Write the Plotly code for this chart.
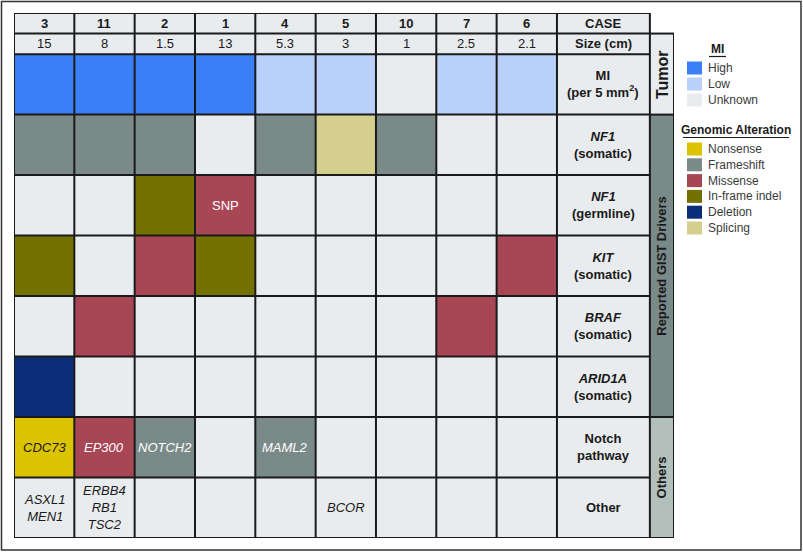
import plotly.graph_objects as go

# --- data -------------------------------------------------------------
cases = ["3", "11", "2", "1", "4", "5", "10", "7", "6"]
sizes = ["15", "8", "1.5", "13", "5.3", "3", "1", "2.5", "2.1"]
mi = ["High", "High", "High", "High", "Low", "Low", "Unknown", "Low", "Low"]
nf1_somatic = ["Frameshift", "Frameshift", "Frameshift", "", "Frameshift", "Splicing", "Frameshift", "", ""]
nf1_germline = ["", "", "In-frame indel", "Missense", "", "", "", "", ""]
kit = ["In-frame indel", "", "Missense", "In-frame indel", "", "", "", "", "Missense"]
braf = ["", "Missense", "", "", "", "", "", "Missense", ""]
arid1a = ["Deletion", "", "", "", "", "", "", "", ""]
notch = ["Nonsense", "Missense", "Frameshift", "", "Frameshift", "", "", "", ""]
other = ["", "", "", "", "", "", "", "", ""]

germline_note = ["", "", "", "SNP", "", "", "", "", ""]
notch_genes = ["CDC73", "EP300", "NOTCH2", "", "MAML2", "", "", "", ""]
other_genes = ["ASXL1<br>MEN1", "ERBB4<br>RB1<br>TSC2", "", "", "", "BCOR", "", "", ""]

row_labels = ["<b>CASE</b>", "<b>Size (cm)</b>", "<b>MI<br>(per 5 mm<sup>2</sup>)</b>",
              "<b><i>NF1</i><br>(somatic)</b>", "<b><i>NF1</i><br>(germline)</b>",
              "<b><i>KIT</i><br>(somatic)</b>", "<b><i>BRAF</i><br>(somatic)</b>",
              "<b><i>ARID1A</i><br>(somatic)</b>", "<b>Notch<br>pathway</b>", "<b>Other</b>"]
groups = ["Tumor", "Reported GIST Drivers", "Others"]
group_rows = [(1, 3), (3, 8), (8, 10)]

mi_legend = ["High", "Low", "Unknown"]
alt_legend = ["Nonsense", "Frameshift", "Missense", "In-frame indel", "Deletion", "Splicing"]

# --- styles -----------------------------------------------------------
blank = "#e9ecee"
colors = {"": blank, "Unknown": blank, "High": "#3a7ff6", "Low": "#b9d0fa",
          "Nonsense": "#dcc300", "Frameshift": "#7a8a88", "Missense": "#a84655",
          "In-frame indel": "#737200", "Deletion": "#0c2e7a", "Splicing": "#d5cf8e"}
group_colors = [blank, "#7a8a88", "#b3bfbb"]
cat_order = ["", "High", "Low", "Nonsense", "Frameshift", "Missense", "In-frame indel", "Deletion", "Splicing"]
code = {c: i for i, c in enumerate(cat_order)}
code["Unknown"] = 0

FONT = "Liberation Sans, Arial, sans-serif"
INK = "#1a1a1a"
W, H = 803, 552

ncol = len(cases)
label_w = 1.54
side_w = 0.40
row_h = [0.34, 0.34] + [1] * 8
row_edges = [0]
for h in row_h:
    row_edges.append(row_edges[-1] + h)
col_edges = list(range(ncol + 1)) + [ncol + label_w]
x_end = ncol + label_w + side_w
y_end = row_edges[-1]

data_rows = [mi, nf1_somatic, nf1_germline, kit, braf, arid1a, notch, other]
z = [[0] * (ncol + 1), [0] * (ncol + 1)]
for r in data_rows:
    z.append([code[v] for v in r] + [0])

n = len(cat_order)
cs = []
for i, c in enumerate(cat_order):
    cs += [[i / n, colors[c]], [(i + 1) / n, colors[c]]]

fig = go.Figure(go.Heatmap(
    z=z, x=col_edges, y=row_edges, colorscale=cs, zmin=-0.5, zmax=n - 0.5,
    showscale=False, hoverinfo="skip"))

shapes = []
ann = []

# side group bands
for g, (a, b), gc in zip(groups, group_rows, group_colors):
    shapes.append(dict(type="rect", xref="x", yref="y", x0=ncol + label_w, x1=x_end,
                       y0=row_edges[a], y1=row_edges[b], fillcolor=gc, line_width=0, layer="below"))
    big = g == "Tumor"
    ann.append(dict(x=ncol + label_w + side_w / 2, y=(row_edges[a] + row_edges[b]) / 2,
                    xref="x", yref="y", text="<b>%s</b>" % g, textangle=-90, showarrow=False,
                    font=dict(family=FONT, size=16 if big else 13, color=INK)))

# grid lines
lw = 2
for xe in col_edges:
    shapes.append(dict(type="line", xref="x", yref="y", x0=xe, x1=xe, y0=0, y1=y_end,
                       line=dict(color=INK, width=lw)))
shapes.append(dict(type="line", xref="x", yref="y", x0=x_end, x1=x_end, y0=row_edges[1], y1=y_end,
                   line=dict(color=INK, width=lw)))
for i, ye in enumerate(row_edges):
    shapes.append(dict(type="line", xref="x", yref="y", x0=0, x1=ncol + label_w, y0=ye, y1=ye,
                       line=dict(color=INK, width=lw)))
for ye in [row_edges[1]] + [row_edges[b] for a, b in group_rows]:
    shapes.append(dict(type="line", xref="x", yref="y", x0=ncol + label_w, x1=x_end, y0=ye, y1=ye,
                       line=dict(color=INK, width=lw)))

def mid(i):
    return (row_edges[i] + row_edges[i + 1]) / 2

# header rows
for j in range(ncol):
    ann.append(dict(x=j + 0.5, y=mid(0), text="<b>%s</b>" % cases[j]))
    ann.append(dict(x=j + 0.5, y=mid(1), text=sizes[j]))
for i, lab in enumerate(row_labels):
    ann.append(dict(x=ncol + label_w / 2, y=mid(i), text=lab))

# cell texts
dark_bg = ["Frameshift", "Missense", "In-frame indel", "Deletion", "High"]
for j in range(ncol):
    if germline_note[j]:
        ann.append(dict(x=j + 0.5, y=mid(4), text=germline_note[j],
                        font=dict(family=FONT, size=13, color="white")))
    if notch_genes[j]:
        col = "white" if notch[j] in dark_bg else INK
        ann.append(dict(x=j + 0.5, y=mid(8), text="<i>%s</i>" % notch_genes[j],
                        font=dict(family=FONT, size=13, color=col)))
    if other_genes[j]:
        ann.append(dict(x=j + 0.5, y=mid(9), text="<i>%s</i>" % other_genes[j],
                        font=dict(family=FONT, size=13, color=INK)))

for a in ann:
    a.setdefault("xref", "x")
    a.setdefault("yref", "y")
    a.setdefault("showarrow", False)
    a.setdefault("font", dict(family=FONT, size=13, color=INK))

# --- legend (paper coordinates, px -> fraction) -----------------------
def px(x):
    return x / W

def py(y):
    return 1 - y / H

leg_font = dict(family=FONT, size=12, color="#3a3a3a")

def legend_block(title, tx, ty, ux0, ux1, items, y0, step):
    ann.append(dict(x=px(tx), y=py(ty), xref="paper", yref="paper", showarrow=False,
                    xanchor="center", yanchor="middle",
                    text="<b>%s</b>" % title, font=dict(family=FONT, size=12, color=INK)))
    shapes.append(dict(type="line", xref="paper", yref="paper", x0=px(ux0), x1=px(ux1),
                       y0=py(ty + 7.5), y1=py(ty + 7.5), line=dict(color=INK, width=1.2)))
    for k, it in enumerate(items):
        yc = y0 + k * step
        shapes.append(dict(type="rect", xref="paper", yref="paper", x0=px(687), x1=px(702),
                           y0=py(yc - 6.5), y1=py(yc + 6.5), fillcolor=colors[it], line_width=0))
        ann.append(dict(x=px(706), y=py(yc), xref="paper", yref="paper", showarrow=False,
                        xanchor="left", yanchor="middle", text=it, font=leg_font))

legend_block("MI", 717, 49, 709, 726, mi_legend, 68, 16)
legend_block("Genomic Alteration", 736, 130, 683, 789, alt_legend, 149, 15.8)

# outer frame
shapes.append(dict(type="rect", xref="paper", yref="paper", x0=px(1.5), x1=px(801),
                   y0=py(550), y1=py(1.5), line=dict(color="#333333", width=1.5)))

fig.update_layout(
    width=W, height=H, margin=dict(l=0, r=0, t=0, b=0),
    paper_bgcolor="white", plot_bgcolor="white",
    xaxis=dict(domain=[14 / W, 674 / W], range=[0, x_end], visible=False, fixedrange=True),
    yaxis=dict(domain=[1 - 538 / H, 1 - 13 / H], range=[y_end, 0], visible=False, fixedrange=True),
    shapes=shapes, annotations=ann, showlegend=False,
)

fig.write_html("out.html", config=dict(displayModeBar=False),
               post_script="document.body.style.margin='0';")
